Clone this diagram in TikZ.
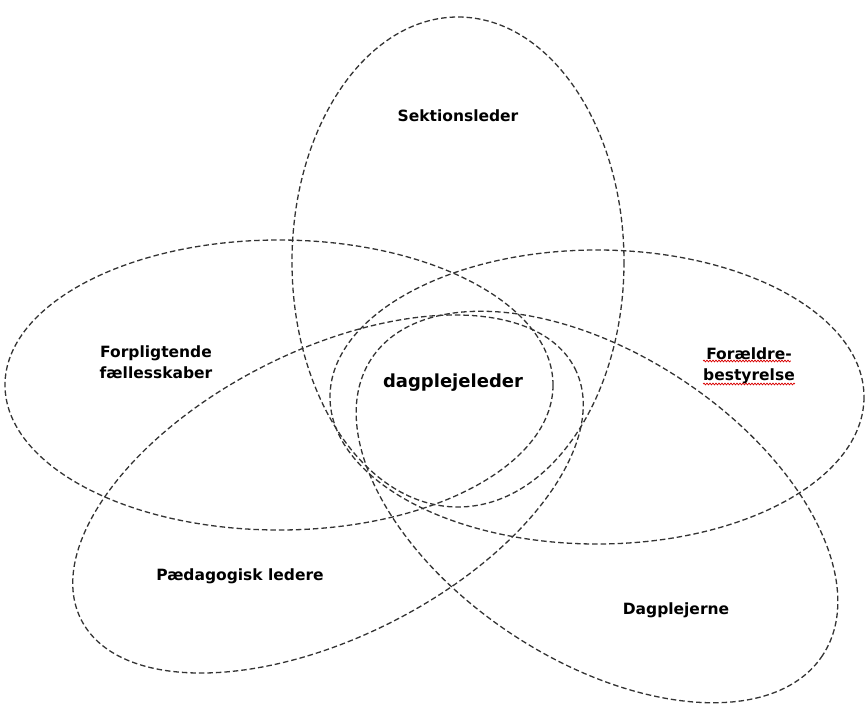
\documentclass[tikz,border=0pt]{standalone}
\usepackage{fontspec}
\setmainfont{DejaVu Sans}
\usetikzlibrary{decorations.pathmorphing}
\begin{document}
\begin{tikzpicture}[x=1pt,y=-1pt,
  venn/.style={draw=black!80, line width=1.3pt, dash pattern=on 5.5pt off 3pt},
  lbl/.style={font=\bfseries\fontsize{15.5}{21}\selectfont, text=black, align=center, inner sep=0pt},
  spell/.style={draw=red!85!black, line width=0.7pt, decorate, decoration={snake, amplitude=0.9pt, segment length=3pt}}]
\useasboundingbox (0,0) rectangle (866,704);
% five ellipses
\draw[venn] (458,262) ellipse [x radius=166, y radius=245];
\draw[venn] (279,385) ellipse [x radius=274, y radius=145];
\draw[venn] (597,397) ellipse [x radius=267, y radius=147];
\draw[venn, shift={(328,494)}, rotate=27] (0,0) ellipse [x radius=277, y radius=143];
\draw[venn, shift={(597,507)}, rotate=-33.3] (0,0) ellipse [x radius=270, y radius=153];
% labels
\node[lbl] (sek) at (458,116) {Sektionsleder};
\node[lbl] (forp) at (156,362) {Forpligtende\\fællesskaber};
\node[lbl, font=\bfseries\fontsize{18}{21}\selectfont] (dag) at (453,383) {dagplejeleder};
\node[lbl] (fore) at (749,366) {Forældre-\\bestyrelse};
\node[lbl] (paed) at (240,576) {Pædagogisk ledere};
\node[lbl] (dpj) at (676,610) {Dagplejerne};
\draw[spell] ([yshift=5pt]fore.west) -- ([yshift=5pt,xshift=-4pt]fore.east);
\draw[spell] ([yshift=-18pt]fore.west) -- ([yshift=-18pt]fore.east);
\end{tikzpicture}
\end{document}
